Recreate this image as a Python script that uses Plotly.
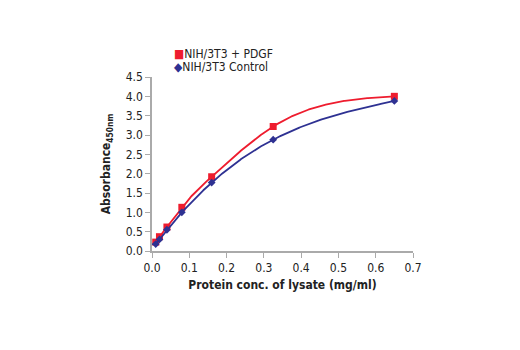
import numpy as np
import plotly.graph_objects as go

conc = [0.01, 0.02, 0.04, 0.08, 0.16, 0.325, 0.65]
pdgf = [0.23, 0.37, 0.62, 1.13, 1.92, 3.22, 4.00]
control = [0.18, 0.30, 0.55, 1.00, 1.77, 2.88, 3.88]
series_names = ["NIH/3T3 + PDGF", "NIH/3T3 Control"]
RED, BLUE = "#ee1c2e", "#2e3192"

FONT = "DejaVu Sans Condensed, Liberation Sans Narrow, Arial Narrow, sans-serif"


def natural_spline(xs, ys, xq):
    x = np.asarray(xs, float); y = np.asarray(ys, float)
    n = len(x); h = np.diff(x)
    A = np.zeros((n, n)); r = np.zeros(n)
    A[0, 0] = A[-1, -1] = 1.0
    for i in range(1, n - 1):
        A[i, i - 1] = h[i - 1]; A[i, i] = 2 * (h[i - 1] + h[i]); A[i, i + 1] = h[i]
        r[i] = 6 * ((y[i + 1] - y[i]) / h[i] - (y[i] - y[i - 1]) / h[i - 1])
    M = np.linalg.solve(A, r)
    idx = np.clip(np.searchsorted(x, xq) - 1, 0, n - 2)
    a = x[idx + 1] - xq; b = xq - x[idx]; hi = h[idx]
    return (M[idx] * a**3 / (6 * hi) + M[idx + 1] * b**3 / (6 * hi)
            + (y[idx] / hi - M[idx] * hi / 6) * a + (y[idx + 1] / hi - M[idx + 1] * hi / 6) * b)


fig = go.Figure()
grid = np.linspace(min(conc), max(conc), 300)
for vals, color, symbol, size, name in [(pdgf, RED, "square", 7, series_names[0]),
                                        (control, BLUE, "diamond", 6, series_names[1])]:
    fig.add_trace(go.Scatter(x=grid, y=natural_spline(conc, vals, grid), mode="lines",
                             line=dict(color=color, width=1.8), showlegend=False, hoverinfo="skip"))
    fig.add_trace(go.Scatter(x=conc, y=vals, name=name, mode="markers",
                             marker=dict(symbol=symbol, size=size, color=color), showlegend=False))

axis_common = dict(showline=True, linecolor="#aaaaaa", linewidth=1.5, ticks="outside",
                   tickcolor="#aaaaaa", ticklen=5, showgrid=False, zeroline=False,
                   tickfont=dict(family=FONT, size=12, color="#222"))
fig.update_layout(
    width=520, height=350, margin=dict(l=152, r=107, t=77, b=99),
    paper_bgcolor="white", plot_bgcolor="white",
    font=dict(family=FONT, size=12, color="#222"),
    xaxis=dict(range=[0, 0.7], dtick=0.1, tickformat=".1f",
               title=dict(text="<b>Protein conc. of lysate (mg/ml)</b>", font=dict(size=12), standoff=6),
               **axis_common),
    yaxis=dict(range=[0, 4.5], dtick=0.5, tickformat=".1f",
               title=dict(text="<b>Absorbance<sub>450nm</sub></b>", font=dict(size=12), standoff=12),
               **axis_common),
    showlegend=False,
)
fig.add_annotation(xref="paper", yref="paper", x=0.075, y=1.13, xanchor="left", yanchor="middle",
                   showarrow=False, font=dict(family=FONT, size=12, color="#222"),
                   text=f"<span style='color:{RED}'>■</span>{series_names[0]}")
fig.add_annotation(xref="paper", yref="paper", x=0.075, y=1.06, xanchor="left", yanchor="middle",
                   showarrow=False, font=dict(family=FONT, size=12, color="#222"),
                   text=f"<span style='color:{BLUE}'>◆</span>{series_names[1]}")
fig.write_html("out.html")
